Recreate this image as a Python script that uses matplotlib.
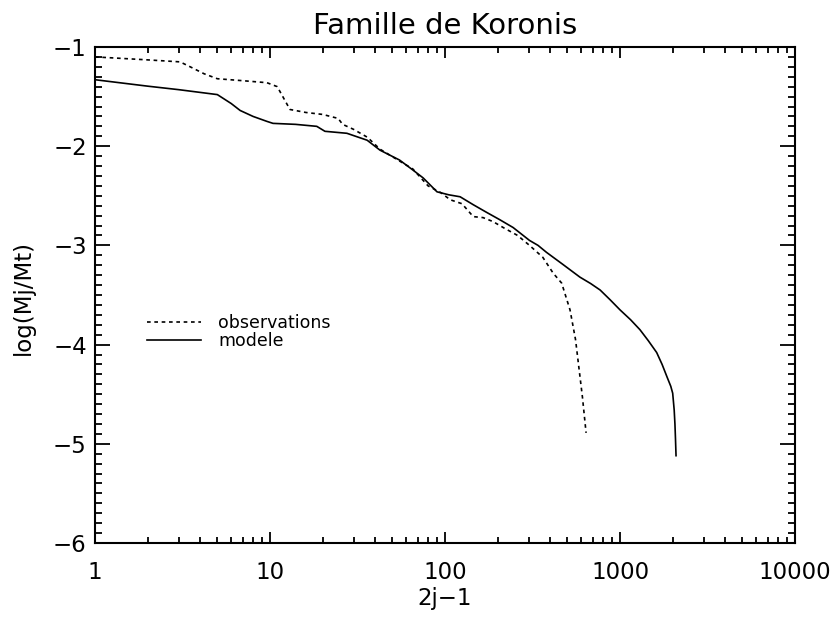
import matplotlib
matplotlib.use("Agg")
import matplotlib.pyplot as plt
from matplotlib.ticker import FixedLocator, FixedFormatter, MultipleLocator

# Distribution cumulee des masses, famille de Koronis
obs_x = [1, 2, 3.06, 3.5, 4.2, 5, 7, 9.6, 11, 12, 13, 16, 20, 24.5, 26, 30, 36,
         42.5, 55, 65.5, 80, 95, 107, 125, 145, 165, 188, 220, 260, 304, 362,
         415, 464, 518, 557, 582, 610, 640]
obs_y = [-1.10, -1.13, -1.15, -1.20, -1.27, -1.32, -1.34, -1.36, -1.40, -1.52,
         -1.63, -1.66, -1.68, -1.72, -1.78, -1.83, -1.91, -2.03, -2.15, -2.23,
         -2.40, -2.47, -2.54, -2.58, -2.71, -2.72, -2.76, -2.83, -2.90, -3.00,
         -3.12, -3.28, -3.38, -3.65, -3.95, -4.23, -4.53, -4.89]

mod_x = [1, 2, 3, 5, 6, 6.75, 8, 9.6, 10.4, 14, 18.5, 20.6, 27.5, 35.9, 42.5,
         55, 65.5, 75, 90, 105, 122, 145, 174, 205, 245, 304, 340, 380, 470,
         590, 680, 770, 880, 1000, 1150, 1300, 1450, 1620, 1740, 1860, 1950,
         2000, 2040, 2060, 2075, 2090]
mod_y = [-1.33, -1.395, -1.43, -1.48, -1.57, -1.64, -1.70, -1.75, -1.77, -1.78,
         -1.80, -1.85, -1.87, -1.94, -2.04, -2.14, -2.24, -2.32, -2.46, -2.49,
         -2.51, -2.59, -2.67, -2.74, -2.82, -2.95, -3.00, -3.07, -3.19, -3.32,
         -3.385, -3.45, -3.55, -3.65, -3.75, -3.85, -3.96, -4.08, -4.20, -4.33,
         -4.42, -4.49, -4.66, -4.80, -4.95, -5.12]

x_ticks = [1, 10, 100, 1000, 10000]
x_labels = ["1", "10", "100", "1000", "10000"]
y_ticks = [-6, -5, -4, -3, -2, -1]
y_labels = ["\u22126", "\u22125", "\u22124", "\u22123", "\u22122", "\u22121"]

plt.rcParams["font.family"] = ["DejaVu Sans"]

fig = plt.figure(figsize=(8.35, 6.19), dpi=100)
ax = fig.add_axes([0.1138, 0.1228, 0.8383, 0.8013])

ax.plot(obs_x, obs_y, color="black", lw=1.2, linestyle=(0, (2.2, 2.2)),
        label="observations")
ax.plot(mod_x, mod_y, color="black", lw=1.2, label="modele")

ax.set_xscale("log")
ax.set_xlim(1, 10000)
ax.set_ylim(-6, -1)

ax.xaxis.set_major_locator(FixedLocator(x_ticks))
ax.xaxis.set_major_formatter(FixedFormatter(x_labels))
ax.yaxis.set_major_locator(FixedLocator(y_ticks))
ax.yaxis.set_major_formatter(FixedFormatter(y_labels))
ax.yaxis.set_minor_locator(MultipleLocator(0.1))

ax.tick_params(which="both", direction="in", top=True, right=True,
               width=1.3, colors="black", labelsize=16.5)
ax.tick_params(axis="x", which="major", length=8, pad=13)
ax.tick_params(axis="x", which="minor", length=4)
ax.tick_params(axis="y", which="major", length=11, pad=6)
ax.tick_params(axis="y", which="minor", length=5)
for sp in ax.spines.values():
    sp.set_linewidth(1.5)

ax.set_title("Famille de Koronis", fontsize=21, pad=9)
ax.set_xlabel("2j\u22121", fontsize=16.5)
ax.set_ylabel("log(Mj/Mt)", fontsize=16.5)
ax.xaxis.set_label_coords(0.5, -0.089)
ax.yaxis.set_label_coords(-0.086, 0.495)

ax.legend(loc="upper left", bbox_to_anchor=(0.074, 0.462), frameon=False,
          fontsize=12.5, handlelength=3.1, handletextpad=1.0, labelspacing=0.02,
          borderpad=0, borderaxespad=0)

fig.savefig("out.png", dpi=100)
